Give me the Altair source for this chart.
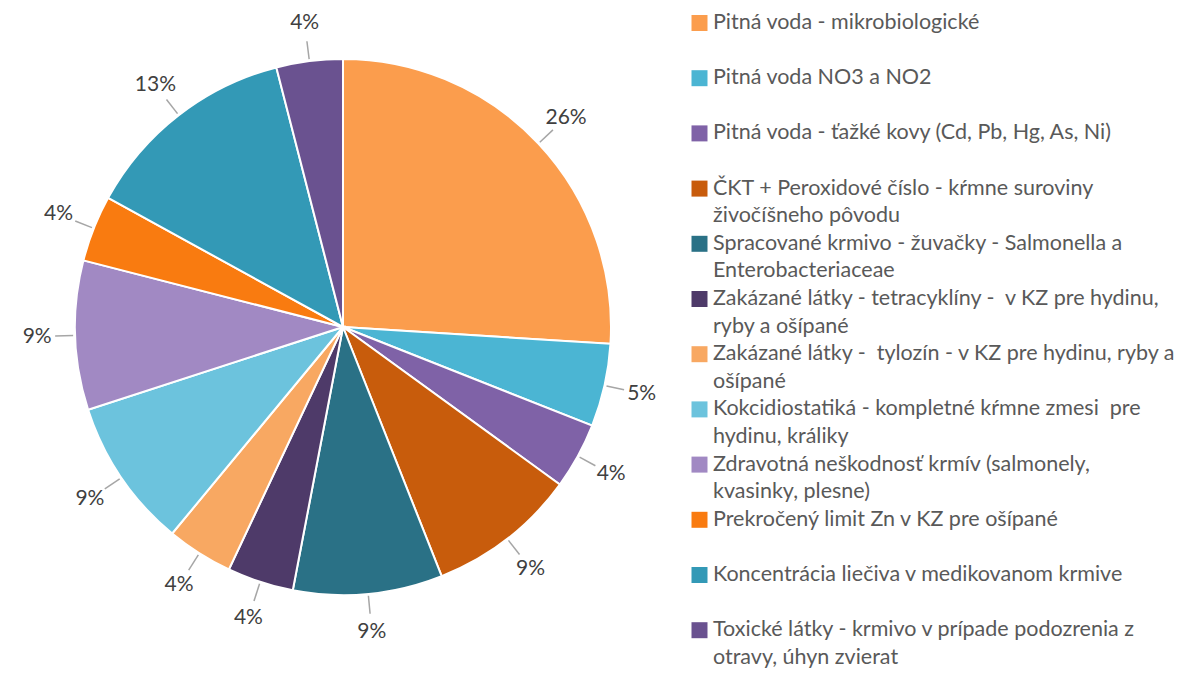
import altair as alt
import pandas as pd

categories = [
    "Pitná voda - mikrobiologické",
    "Pitná voda NO3 a NO2",
    "Pitná voda - ťažké kovy (Cd, Pb, Hg, As, Ni)",
    "ČKT + Peroxidové číslo - kŕmne suroviny živočíšneho pôvodu",
    "Spracované krmivo - žuvačky - Salmonella a Enterobacteriaceae",
    "Zakázané látky - tetracyklíny -  v KZ pre hydinu, ryby a ošípané",
    "Zakázané látky -  tylozín - v KZ pre hydinu, ryby a ošípané",
    "Kokcidiostatiká - kompletné kŕmne zmesi  pre hydinu, králiky",
    "Zdravotná neškodnosť krmív (salmonely, kvasinky, plesne)",
    "Prekročený limit Zn v KZ pre ošípané",
    "Koncentrácia liečiva v medikovanom krmive",
    "Toxické látky - krmivo v prípade podozrenia z otravy, úhyn zvierat",
]
values = [26, 5, 4, 9, 9, 4, 4, 9, 9, 4, 13, 4]
labels = ["26%", "5%", "4%", "9%", "9%", "4%", "4%", "9%", "9%", "4%", "13%", "4%"]
colors = [
    "#FB9D4D", "#4BB5D3", "#7F62A7", "#C85C0C", "#2A7186", "#4E3A69",
    "#F8A862", "#6CC3DD", "#A189C3", "#F97B10", "#3399B6", "#6A5290",
]
legend_lines = [
    ["Pitná voda - mikrobiologické"],
    ["Pitná voda NO3 a NO2"],
    ["Pitná voda - ťažké kovy (Cd, Pb, Hg, As, Ni)"],
    ["ČKT + Peroxidové číslo - kŕmne suroviny", "živočíšneho pôvodu"],
    ["Spracované krmivo - žuvačky - Salmonella a", "Enterobacteriaceae"],
    ["Zakázané látky - tetracyklíny - \u00a0v KZ pre hydinu,", "ryby a ošípané"],
    ["Zakázané látky - \u00a0tylozín - v KZ pre hydinu, ryby a", "ošípané"],
    ["Kokcidiostatiká - kompletné kŕmne zmesi \u00a0pre", "hydinu, králiky"],
    ["Zdravotná neškodnosť krmív (salmonely,", "kvasinky, plesne)"],
    ["Prekročený limit Zn v KZ pre ošípané"],
    ["Koncentrácia liečiva v medikovanom krmive"],
    ["Toxické látky - krmivo v prípade podozrenia z", "otravy, úhyn zvierat"],
]

W, H = 1170, 661
CX, CY, R = 335, 319, 268
FONT = "Lato"

pie_df = pd.DataFrame({"idx": range(len(categories)), "cat": categories,
                       "value": values, "label": labels})
rows = []
for i, lines in enumerate(legend_lines):
    for j, t in enumerate(lines):
        rows.append({"idx": i, "line": j, "text": t, "cat": categories[i]})
leg_df = pd.DataFrame(rows)

color = alt.Color("cat:N", scale=alt.Scale(domain=categories, range=colors), legend=None)

base = alt.Chart(pie_df)

arcs = base.mark_arc(outerRadius=R, stroke="white", strokeWidth=2).encode(
    theta=alt.Theta("value:Q", stack=True),
    color=color,
    order=alt.Order("idx:Q"),
    x=alt.value(CX), y=alt.value(CY),
)

texts = base.mark_text(radius=306, fontSize=21, font=FONT, color="#404040").encode(
    theta=alt.Theta("value:Q", stack=True),
    text="label:N",
    order=alt.Order("idx:Q"),
    x=alt.value(CX), y=alt.value(CY),
)

leaders = base.transform_window(
    cum="sum(value)", sort=[alt.SortField("idx")], frame=[None, 0]
).transform_joinaggregate(total="sum(value)").transform_calculate(
    mid="(datum.cum - datum.value/2) / datum.total * 2 * PI",
).transform_calculate(
    x1=f"{CX} + {R + 2} * sin(datum.mid)",
    y1=f"{CY} - {R + 2} * cos(datum.mid)",
    x2=f"{CX} + 288 * sin(datum.mid)",
    y2=f"{CY} - 288 * cos(datum.mid)",
).mark_rule(color="#A6A6A6", strokeWidth=1.5).encode(
    x=alt.X("x1:Q", scale=None), y=alt.Y("y1:Q", scale=None),
    x2="x2:Q", y2="y2:Q",
)

leg_base = alt.Chart(leg_df).transform_calculate(
    ypix="15 + (datum.idx * 2 + datum.line) * 27.6"
)
squares = leg_base.transform_filter("datum.line == 0").mark_square(size=256, opacity=1).encode(
    x=alt.value(691.5),
    y=alt.Y("ypix:Q", scale=None),
    color=color,
)
leg_text = leg_base.mark_text(align="left", baseline="middle", fontSize=21.5,
                              font=FONT, color="#595959").encode(
    x=alt.value(705),
    y=alt.Y("ypix:Q", scale=None),
    text="text:N",
)

chart = alt.layer(arcs, leaders, texts, squares, leg_text).properties(
    width=W, height=H, autosize=alt.AutoSizeParams(type="none"), padding=0
).configure_view(stroke=None)

chart.save("out.html", embed_options={"renderer": "svg", "actions": False})
